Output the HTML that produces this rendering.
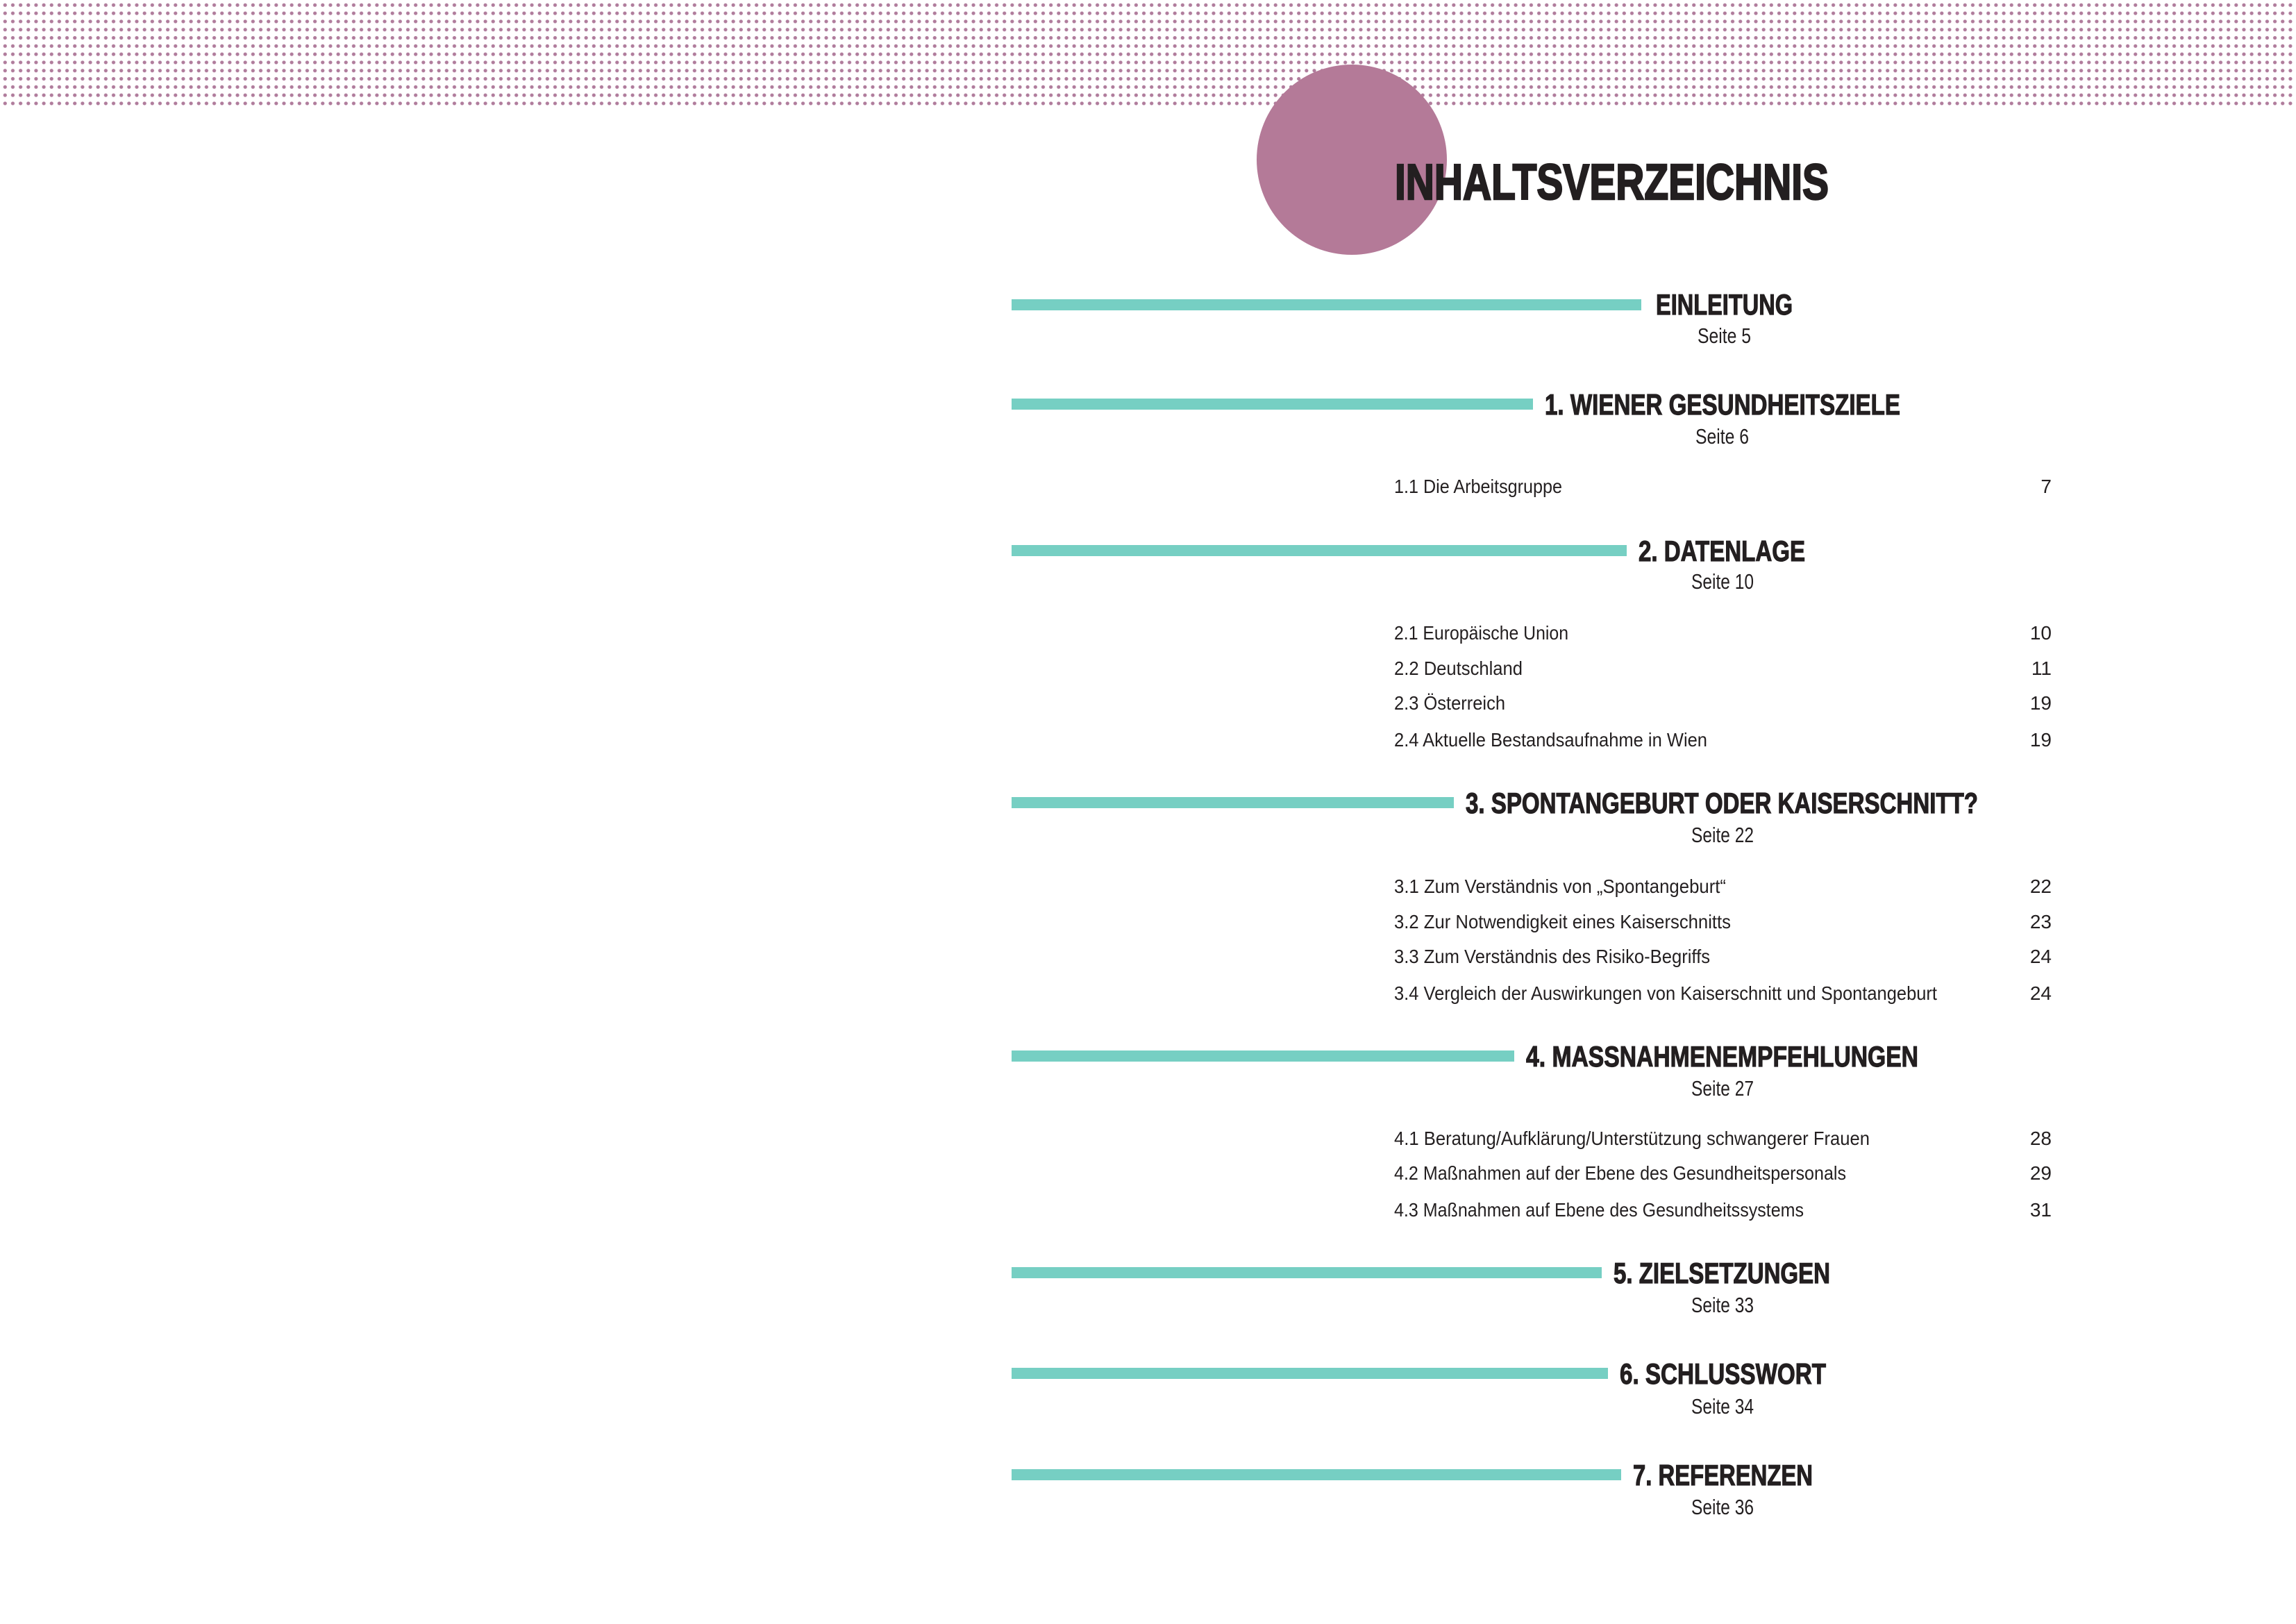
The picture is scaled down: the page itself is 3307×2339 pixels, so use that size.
<!DOCTYPE html>
<html><head><meta charset="utf-8"><style>
html,body{margin:0;padding:0;background:#fff;}
svg{display:block;}
.h{font-family:"Liberation Sans",sans-serif;font-weight:bold;fill:#231f20;stroke:#231f20;stroke-width:1.2;}
.t{font-family:"Liberation Sans",sans-serif;fill:#231f20;}
</style></head><body>
<svg width="3307" height="2339" viewBox="0 0 3307 2339" xmlns="http://www.w3.org/2000/svg">
<defs>
<pattern id="dots" x="1.72" y="1.4" width="11.158" height="11.8" patternUnits="userSpaceOnUse">
<circle cx="5.58" cy="5.9" r="2.6" fill="#b07c9c"/>
</pattern>
</defs>
<rect x="0" y="0" width="3307" height="156" fill="url(#dots)"/>
<circle cx="1947" cy="230" r="137" fill="#b47a98"/>
<text class="h" x="2009" y="287" font-size="72" style="stroke-width:2.5" textLength="625" lengthAdjust="spacingAndGlyphs">INHALTSVERZEICHNIS</text>

<g fill="#76cfc3">
<rect x="1457" y="431" width="907" height="16"/>
<rect x="1457" y="574" width="751" height="16"/>
<rect x="1457" y="785" width="886" height="16"/>
<rect x="1457" y="1148" width="637" height="16"/>
<rect x="1457" y="1513" width="724" height="16"/>
<rect x="1457" y="1825" width="850" height="16"/>
<rect x="1457" y="1970" width="859" height="16"/>
<rect x="1457" y="2116" width="878" height="16"/>
</g>

<g class="h" font-size="42">
<text x="2385" y="453" textLength="197" lengthAdjust="spacingAndGlyphs">EINLEITUNG</text>
<text x="2225" y="597" textLength="512" lengthAdjust="spacingAndGlyphs">1. WIENER GESUNDHEITSZIELE</text>
<text x="2360" y="808" textLength="240" lengthAdjust="spacingAndGlyphs">2. DATENLAGE</text>
<text x="2111" y="1171" textLength="738" lengthAdjust="spacingAndGlyphs">3. SPONTANGEBURT ODER KAISERSCHNITT?</text>
<text x="2198" y="1536" textLength="565" lengthAdjust="spacingAndGlyphs">4. MASSNAHMENEMPFEHLUNGEN</text>
<text x="2324" y="1848" textLength="312" lengthAdjust="spacingAndGlyphs">5. ZIELSETZUNGEN</text>
<text x="2333" y="1993" textLength="297" lengthAdjust="spacingAndGlyphs">6. SCHLUSSWORT</text>
<text x="2352" y="2139" textLength="259" lengthAdjust="spacingAndGlyphs">7. REFERENZEN</text>
</g>

<g class="t" font-size="31">
<text x="2445" y="494" textLength="77" lengthAdjust="spacingAndGlyphs">Seite 5</text>
<text x="2442" y="639" textLength="77" lengthAdjust="spacingAndGlyphs">Seite 6</text>
<text x="2436" y="848" textLength="90" lengthAdjust="spacingAndGlyphs">Seite 10</text>
<text x="2436" y="1213" textLength="90" lengthAdjust="spacingAndGlyphs">Seite 22</text>
<text x="2436" y="1578" textLength="90" lengthAdjust="spacingAndGlyphs">Seite 27</text>
<text x="2436" y="1890" textLength="90" lengthAdjust="spacingAndGlyphs">Seite 33</text>
<text x="2436" y="2036" textLength="90" lengthAdjust="spacingAndGlyphs">Seite 34</text>
<text x="2436" y="2181" textLength="90" lengthAdjust="spacingAndGlyphs">Seite 36</text>
</g>

<g class="t" font-size="28">
<text x="2008" y="710" textLength="242" lengthAdjust="spacingAndGlyphs">1.1 Die Arbeitsgruppe</text>
<text x="2008" y="921" textLength="251" lengthAdjust="spacingAndGlyphs">2.1 Europäische Union</text>
<text x="2008" y="972" textLength="185" lengthAdjust="spacingAndGlyphs">2.2 Deutschland</text>
<text x="2008" y="1022" textLength="160" lengthAdjust="spacingAndGlyphs">2.3 Österreich</text>
<text x="2008" y="1075" textLength="451" lengthAdjust="spacingAndGlyphs">2.4 Aktuelle Bestandsaufnahme in Wien</text>
<text x="2008" y="1286" textLength="478" lengthAdjust="spacingAndGlyphs">3.1 Zum Verständnis von „Spontangeburt“</text>
<text x="2008" y="1337" textLength="485" lengthAdjust="spacingAndGlyphs">3.2 Zur Notwendigkeit eines Kaiserschnitts</text>
<text x="2008" y="1387" textLength="455" lengthAdjust="spacingAndGlyphs">3.3 Zum Verständnis des Risiko-Begriffs</text>
<text x="2008" y="1440" textLength="782" lengthAdjust="spacingAndGlyphs">3.4 Vergleich der Auswirkungen von Kaiserschnitt und Spontangeburt</text>
<text x="2008" y="1649" textLength="685" lengthAdjust="spacingAndGlyphs">4.1 Beratung/Aufklärung/Unterstützung schwangerer Frauen</text>
<text x="2008" y="1699" textLength="651" lengthAdjust="spacingAndGlyphs">4.2 Maßnahmen auf der Ebene des Gesundheitspersonals</text>
<text x="2008" y="1752" textLength="590" lengthAdjust="spacingAndGlyphs">4.3 Maßnahmen auf Ebene des Gesundheitssystems</text>
</g>
<g class="t" font-size="28" text-anchor="end">
<text x="2955" y="710">7</text>
<text x="2955" y="921">10</text>
<text x="2955" y="972">11</text>
<text x="2955" y="1022">19</text>
<text x="2955" y="1075">19</text>
<text x="2955" y="1286">22</text>
<text x="2955" y="1337">23</text>
<text x="2955" y="1387">24</text>
<text x="2955" y="1440">24</text>
<text x="2955" y="1649">28</text>
<text x="2955" y="1699">29</text>
<text x="2955" y="1752">31</text>
</g>
</svg>
</body></html>
